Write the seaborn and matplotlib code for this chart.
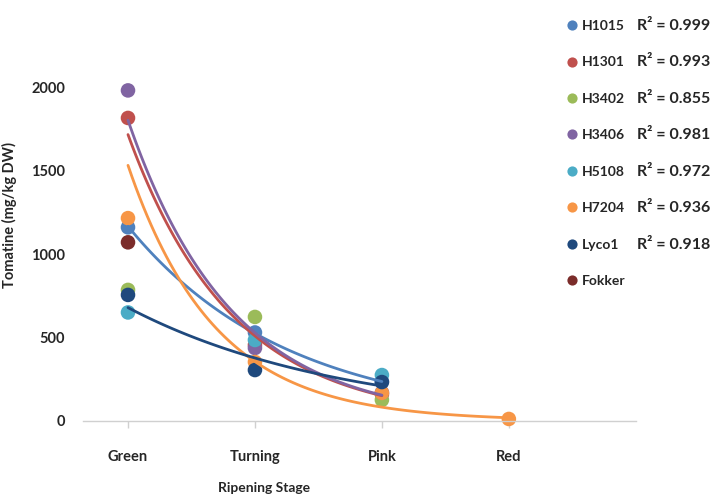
#!/usr/bin/env python3
import matplotlib
matplotlib.use('Agg')
import matplotlib.pyplot as plt
import seaborn as sns
import numpy as np
import pandas

sns.set_style('white')
plt.rcParams['font.family'] = ['Lato', 'DejaVu Sans']
plt.rcParams['font.weight'] = 'bold'

stages = ['Green', 'Turning', 'Pink', 'Red']
lines = ['H1015', 'H1301', 'H3402', 'H3406', 'H5108', 'H7204', 'Lyco1', 'Fokker']
colors = ['#4F81BD', '#C0504D', '#9BBB59', '#8064A2', '#4BACC6', '#F79646', '#1F497D', '#7B2C2A']
r2_labels = ['R\u00b2 = 0.999', 'R\u00b2 = 0.993', 'R\u00b2 = 0.855', 'R\u00b2 = 0.981',
             'R\u00b2 = 0.972', 'R\u00b2 = 0.936', 'R\u00b2 = 0.918', '']

# tomatine (mg/kg DW) per stage, NaN = no value
values = {
    'H1015':  [1160, 530, 235, np.nan],
    'H1301':  [1815, 455, 160, np.nan],
    'H3402':  [785, 623, 126, np.nan],
    'H3406':  [1980, 437, 170, np.nan],
    'H5108':  [650, 485, 275, np.nan],
    'H7204':  [1215, 353, 168, 12],
    'Lyco1':  [755, 305, 233, np.nan],
    'Fokker': [1070, np.nan, np.nan, np.nan],
}
# series that show an exponential trendline in the chart
trend_lines = ['H1015', 'H1301', 'H3406', 'H7204', 'Lyco1']

def main():
    rows = []
    for name in lines:
        for i, v in enumerate(values[name]):
            if not np.isnan(v):
                rows.append({'line': name, 'pos': i, 'tomatine': v})
    data = pandas.DataFrame(rows)
    palette = dict(zip(lines, colors))

    fig = plt.figure(figsize=(7.16, 4.97), dpi=100)
    ax = fig.add_axes([0.116, 0.153, 0.772, 0.739])

    sns.scatterplot(data=data, x='pos', y='tomatine', hue='line', hue_order=lines,
                    palette=palette, s=110, edgecolor='none', ax=ax, zorder=2,
                    clip_on=False)
    handles, labels = ax.get_legend_handles_labels()

    # exponential trendlines (Excel style: fit on log of values)
    for name in trend_lines:
        sub = data[data.line == name]
        b, a = np.polyfit(sub['pos'], np.log(sub['tomatine']), 1)
        xs = np.linspace(0, sub['pos'].max(), 100)
        trend = pandas.DataFrame({'pos': xs, 'tomatine': np.exp(a + b * xs)})
        sns.lineplot(data=trend, x='pos', y='tomatine', color=palette[name],
                     linewidth=2, ax=ax, zorder=3, legend=False)
    if ax.get_legend() is not None:
        ax.get_legend().remove()

    ax.set_xlim(-0.354, 4.0)
    ax.set_ylim(0, 2200)
    ax.set_yticks([0, 500, 1000, 1500, 2000])
    ax.set_xticks(range(len(stages)))
    ax.set_xticklabels(stages)
    for lab in ax.get_xticklabels() + ax.get_yticklabels():
        lab.set_fontweight('bold')
    ax.tick_params(axis='x', length=5, pad=16, labelsize=10.5, color='#D0D0D0', width=1)
    ax.tick_params(axis='y', length=0, pad=13, labelsize=10.5)
    ax.xaxis.set_ticks_position('bottom')
    for s in ['top', 'right', 'left']:
        ax.spines[s].set_visible(False)
    ax.spines['bottom'].set_color('#D0D0D0')
    ax.spines['bottom'].set_linewidth(1)

    ax.set_xlabel('Ripening Stage', fontsize=10, fontweight='bold')
    ax.xaxis.set_label_coords(0.327, -0.165)
    ax.set_ylabel('Tomatine (mg/kg DW)', fontsize=10.5, fontweight='bold')
    ax.yaxis.set_label_coords(-0.12, 0.56)

    leg = fig.legend(handles, labels, loc='upper left', bbox_to_anchor=(0.77, 0.985),
                     frameon=False, fontsize=10, labelspacing=1.76, handletextpad=0.1,
                     handlelength=1.2, markerscale=0.7)
    for t in leg.get_texts():
        t.set_fontweight('bold')

    fig.canvas.draw()
    inv = fig.transFigure.inverted()
    for t, r2 in zip(leg.get_texts(), r2_labels):
        bb = t.get_window_extent()
        y = inv.transform((0, (bb.y0 + bb.y1) / 2))[1]
        fig.text(0.889, y, r2, fontsize=11.5, fontweight='bold', va='center', ha='left')

    fig.savefig('out.png', dpi=100)

if __name__ == '__main__':
    main()
